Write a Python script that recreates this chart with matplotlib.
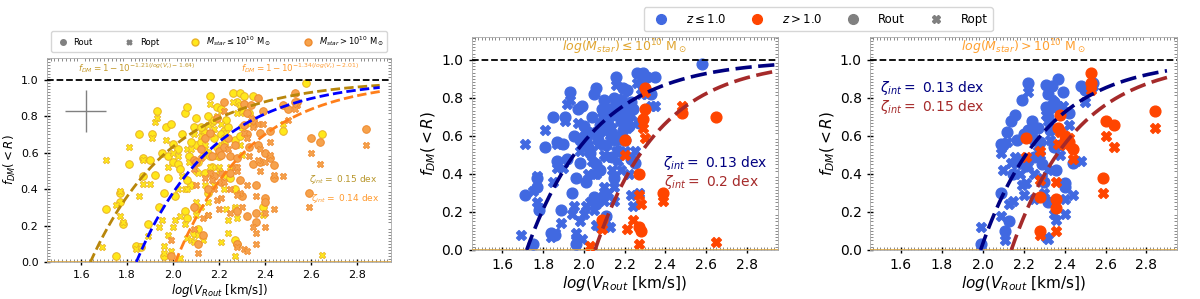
import numpy as np
import matplotlib
matplotlib.use('Agg')
import matplotlib.pyplot as plt
from matplotlib.ticker import AutoMinorLocator
from matplotlib.lines import Line2D

nan = np.nan

# low stellar mass, z <= 1  (log V_Rout, fDM at Rout, fDM at Ropt)
lm_lz_v = [1.69, 1.71, 1.75, 1.77, 1.77, 1.78, 1.81, 1.84, 1.85, 1.86, 1.87, 1.87,
           1.89, 1.90, 1.91, 1.92, 1.93, 1.94, 1.95, 1.96, 1.96, 1.97, 1.98, 1.99,
           2.00, 2.00, 2.01, 2.02, 2.03, 2.05, 2.05, 2.06, 2.06, 2.08, 2.09, 2.10,
           2.10, 2.11, 2.12, 2.13, 2.14, 2.14, 2.15, 2.16, 2.16, 2.17, 2.18, 2.19,
           2.20, 2.21, 2.22, 2.22, 2.23, 2.24, 2.25, 2.26, 2.27, 2.28, 2.29, 2.31,
           2.33, 2.35, 2.58,
           1.98, 2.02, 2.04, 2.06, 2.07, 2.08, 2.10, 2.11, 2.12, 2.13, 2.15, 2.15,
           2.17, 2.18, 2.19, 2.21, 2.23]
lm_lz_out = [nan, 0.29, 0.03, 0.33, 0.38, 0.21, 0.54, 0.09, 0.70, 0.08, 0.47, 0.57,
             0.21, 0.56, 0.70, 0.48, 0.83, 0.30, 0.60, 0.38, 0.03, 0.74, 0.46, 0.76,
             0.65, 0.55, 0.36, 0.54, 0.51, 0.82, 0.28, 0.85, 0.24, 0.42, 0.74, 0.79,
             0.64, 0.18, 0.66, 0.72, 0.49, 0.71, 0.60, 0.91, 0.58, 0.77, 0.68, 0.85,
             0.58, 0.84, 0.72, 0.65, 0.48, 0.74, 0.46, 0.93, 0.67, 0.88, 0.93, 0.91,
             0.82, 0.91, 0.98,
             0.58, 0.62, 0.70, 0.45, 0.58, 0.66, 0.29, 0.55, 0.74, 0.62, 0.80, 0.38,
             0.52, 0.78, 0.63, 0.70, 0.78]
lm_lz_opt = [0.08, 0.56, 0.31, 0.39, 0.25, 0.22, 0.63, 0.07, 0.36, 0.09, 0.43, 0.56,
             0.14, 0.43, 0.68, 0.77, 0.79, 0.19, 0.23, 0.09, 0.05, 0.67, 0.15, 0.06,
             0.19, 0.60, 0.23, 0.40, 0.25, 0.40, 0.21, 0.62, 0.13, 0.12, 0.70, 0.50,
             0.33, 0.15, 0.30, 0.12, 0.42, 0.64, 0.26, 0.87, 0.52, 0.71, 0.42, 0.80,
             0.52, 0.76, 0.68, 0.40, 0.29, 0.23, 0.52, 0.88, 0.30, 0.82, 0.86, 0.82,
             0.76, 0.76, nan,
             0.52, 0.58, 0.47, 0.40, 0.55, 0.62, 0.26, 0.49, 0.69, 0.58, 0.75, 0.33,
             0.47, 0.73, 0.58, 0.64, 0.71]

# low stellar mass, z > 1
lm_hz_v = [2.03, 2.09, 2.20, 2.21, 2.24, 2.27, 2.27, 2.28, 2.29, 2.30, 2.30, 2.39,
           2.48, 2.65]
lm_hz_out = [nan, 0.16, 0.58, nan, nan, 0.40, 0.12, 0.10, 0.69, 0.74, 0.85, 0.30,
             0.72, 0.70]
lm_hz_opt = [0.02, 0.11, 0.50, 0.11, 0.16, 0.29, 0.03, 0.24, 0.64, 0.59, 0.83, 0.26,
             0.76, 0.04]

# high stellar mass, z <= 1
hm_lz_v = [1.99, 2.09, 2.09, 2.10, 2.11, 2.13, 2.14, 2.15, 2.16, 2.17, 2.19, 2.20,
           2.22, 2.22, 2.25, 2.25, 2.27, 2.31, 2.31, 2.32, 2.32, 2.32, 2.34, 2.35,
           2.36, 2.37, 2.39, 2.40, 2.40, 2.44, 2.48, 2.50, 2.54,
           2.12, 2.18, 2.21, 2.24, 2.28, 2.29, 2.30, 2.33, 2.35, 2.38, 2.42]
hm_lz_out = [0.03, 0.30, 0.56, 0.55, 0.10, 0.15, 0.68, 0.40, 0.71, 0.58, 0.79, 0.61,
             0.88, 0.63, 0.58, 0.49, 0.64, 0.87, 0.75, 0.82, 0.70, 0.25, 0.86, 0.54,
             0.42, 0.90, 0.83, 0.35, 0.33, 0.46, 0.86, 0.84, 0.88,
             0.62, 0.47, 0.44, 0.68, 0.57, 0.45, 0.36, 0.63, 0.78, 0.55, 0.72]
hm_lz_opt = [0.12, 0.18, 0.51, 0.42, 0.05, 0.24, 0.46, 0.26, 0.49, 0.45, 0.34, 0.29,
             0.83, 0.44, 0.40, 0.27, 0.52, 0.71, 0.07, 0.68, 0.42, 0.06, 0.79, 0.19,
             0.16, 0.76, 0.76, 0.27, 0.19, 0.29, 0.47, 0.78, 0.86,
             0.57, 0.40, 0.35, 0.62, 0.50, 0.38, 0.30, 0.58, 0.74, 0.50, 0.66]

# high stellar mass, z > 1
hm_hz_v = [2.21, 2.28, 2.28, 2.28, 2.36, 2.36, 2.37, 2.38, 2.40, 2.42, 2.44, 2.53,
           2.53, 2.60, 2.59, 2.64, 2.84]
hm_hz_out = [0.59, nan, 0.28, 0.10, 0.27, 0.22, 0.64, 0.71, 0.60, 0.57, 0.53, 0.93,
             0.88, 0.68, 0.38, 0.66, 0.73]
hm_hz_opt = [0.49, 0.52, 0.37, 0.08, 0.36, 0.10, 0.56, 0.62, 0.55, 0.59, 0.48, 0.86,
             0.84, 0.60, 0.30, 0.54, 0.64]

# fits fDM = 1 - 10^(-a (x - b))
fit_lm = (1.21, 1.64)
fit_hm = (1.34, 2.01)
fit_all = (1.30, 1.84)
fit_lm_lz = (1.30, 1.72)
fit_lm_hz = (1.38, 2.055)
fit_hm_lz = (1.365, 1.99)
fit_hm_hz = (1.36, 2.14)

YEL, YEL_E = '#ffe81a', '#e9b227'
ORA, ORA_E = '#f6a24c', '#ef8a2e'
BLUE, RED = 'royalblue', 'orangered'


def fdm(x, a, b):
    return 1 - 10 ** (-a * (x - b))


def curve(ax, fit, x1, color, lw, dash):
    a, b = fit
    x = np.linspace(b, x1, 200)
    ax.plot(x, fdm(x, a, b), color=color, lw=lw, ls=(0, dash), zorder=5)


def style(ax, fs_tick, fs_lab):
    ax.set_xlim(1.45, 2.95)
    ax.set_ylim(0, 1.12)
    ax.set_xticks([1.6, 1.8, 2.0, 2.2, 2.4, 2.6, 2.8])
    ax.set_yticks([0, 0.2, 0.4, 0.6, 0.8, 1.0])
    ax.xaxis.set_minor_locator(AutoMinorLocator(12))
    ax.yaxis.set_minor_locator(AutoMinorLocator(12))
    ax.tick_params(which='major', direction='inout', length=5, width=1,
                   labelsize=fs_tick, top=False, right=False)
    ax.tick_params(which='minor', direction='in', length=2, width=0.6,
                   color='#777777', top=True, right=True)
    for s in ax.spines.values():
        s.set_color('#aaaaaa')
        s.set_linewidth(0.6)
    ax.axhline(1.0, color='k', ls='--', lw=1.3, zorder=4)
    ax.axhline(0.0, color='#d9a441', lw=1.2, zorder=4)
    ax.set_xlabel('$log(V_{Rout}$ [km/s])', fontsize=fs_lab, labelpad=1)
    ax.set_ylabel('$f_{DM}(<R)$', fontsize=fs_lab, labelpad=2)


fig = plt.figure(figsize=(12, 2.99), dpi=100)
ax1 = fig.add_axes([0.039, 0.124, 0.287, 0.682])
ax2 = fig.add_axes([0.393, 0.164, 0.255, 0.712])
ax3 = fig.add_axes([0.725, 0.164, 0.256, 0.712])

# ---- panel 1: all galaxies split by stellar mass
for v, fo, fp, fc, ec in [(lm_lz_v + lm_hz_v, lm_lz_out + lm_hz_out, lm_lz_opt + lm_hz_opt, YEL, YEL_E),
                          (hm_lz_v + hm_hz_v, hm_lz_out + hm_hz_out, hm_lz_opt + hm_hz_opt, ORA, ORA_E)]:
    ax1.scatter(v, fo, s=30, marker='o', color=fc, edgecolors=ec, linewidths=0.7, zorder=3)
    ax1.scatter(v, fp, s=22, marker='X', color=fc, edgecolors=ec, linewidths=0.5, zorder=3)
curve(ax1, fit_lm, 2.9, '#b8860b', 2.0, (3.4, 1.5))
curve(ax1, fit_all, 2.9, 'blue', 2.0, (3.4, 1.5))
curve(ax1, fit_hm, 2.9, '#ff7f1a', 2.0, (3.4, 1.5))
ax1.errorbar([1.62], [0.83], xerr=[0.09], yerr=[0.115], color='gray', lw=1, capsize=0)
ax1.text(1.843, 1.066, r'$f_{DM}=1-10^{-1.21(log(V_r)-1.64)}$', color='#c49a2c',
         fontsize=6.3, ha='center', va='center')
ax1.text(2.554, 1.066, r'$f_{DM}=1-10^{-1.34(log(V_r)-2.01)}$', color='#ff9a2e',
         fontsize=6.3, ha='center', va='center')
ax1.text(2.59, 0.45, r'$\zeta_{int}=$ 0.15 dex', color='#b8962b', fontsize=6.5, va='center')
ax1.text(2.60, 0.35, r'$\zeta_{int}=$ 0.14 dex', color='#ff9a2e', fontsize=6.5, va='center')
style(ax1, 8, 8.5)

h1 = [Line2D([], [], ls='', marker='o', color='gray', ms=4),
      Line2D([], [], ls='', marker='X', color='gray', ms=3.5),
      Line2D([], [], ls='', marker='o', color=YEL, mec=YEL_E, ms=5),
      Line2D([], [], ls='', marker='o', color=ORA, mec=ORA_E, ms=5)]
ax1.legend(h1, ['Rout', 'Ropt', r'$M_{star} \leq 10^{10}$ M$_\odot$', r'$M_{star} > 10^{10}$ M$_\odot$'],
           loc='lower left', bbox_to_anchor=(0, 1.01, 1, 0.1), mode='expand', ncol=4,
           fontsize=6, frameon=True, borderpad=0.4, handletextpad=0.3)

# ---- panel 2: low stellar mass, split by redshift
ax2.scatter(lm_lz_v, lm_lz_out, s=60, marker='o', color=BLUE, zorder=3)
ax2.scatter(lm_lz_v, lm_lz_opt, s=50, marker='X', color=BLUE, zorder=3)
ax2.scatter(lm_hz_v, lm_hz_out, s=60, marker='o', color=RED, zorder=3)
ax2.scatter(lm_hz_v, lm_hz_opt, s=50, marker='X', color=RED, zorder=3)
curve(ax2, fit_lm_lz, 2.95, 'navy', 2.6, (4.5, 1.8))
curve(ax2, fit_lm_hz, 2.95, '#a52a2a', 2.6, (4.5, 1.8))
ax2.text(2.2, 1.065, r'$log(M_{star}) \leq 10^{10}$ M$_\odot$', color='#e0a530',
         fontsize=9, ha='center', va='center')
ax2.text(2.386, 0.456, r'$\zeta_{int}=$ 0.13 dex', color='navy', fontsize=10, va='center')
ax2.text(2.392, 0.36, r'$\zeta_{int}=$ 0.2 dex', color='#a52a2a', fontsize=10, va='center')
style(ax2, 10, 11)

# ---- panel 3: high stellar mass, split by redshift
ax3.scatter(hm_lz_v, hm_lz_out, s=60, marker='o', color=BLUE, zorder=3)
ax3.scatter(hm_lz_v, hm_lz_opt, s=50, marker='X', color=BLUE, zorder=3)
ax3.scatter(hm_hz_v, hm_hz_out, s=60, marker='o', color=RED, zorder=3)
ax3.scatter(hm_hz_v, hm_hz_opt, s=50, marker='X', color=RED, zorder=3)
curve(ax3, fit_hm_lz, 2.9, 'navy', 2.6, (4.5, 1.8))
curve(ax3, fit_hm_hz, 2.9, '#a52a2a', 2.6, (4.5, 1.8))
ax3.text(2.2, 1.065, r'$log(M_{star}) > 10^{10}$ M$_\odot$', color='#ffa030',
         fontsize=9, ha='center', va='center')
ax3.text(1.5, 0.85, r'$\zeta_{int}=$ 0.13 dex', color='navy', fontsize=10, va='center')
ax3.text(1.5, 0.754, r'$\zeta_{int}=$ 0.15 dex', color='#a52a2a', fontsize=10, va='center')
style(ax3, 10, 11)

h2 = [Line2D([], [], ls='', marker='o', color=BLUE, ms=7),
      Line2D([], [], ls='', marker='o', color=RED, ms=7),
      Line2D([], [], ls='', marker='o', color='gray', ms=7),
      Line2D([], [], ls='', marker='X', color='gray', ms=6)]
fig.legend(h2, [r'$z \leq 1.0$', r'$z > 1.0$', 'Rout', 'Ropt'], loc='upper center',
           bbox_to_anchor=(0.682, 0.995), ncol=4, fontsize=8.5, columnspacing=1.6,
           handletextpad=1.1, borderpad=0.45)

fig.savefig('out.png', dpi=100)
